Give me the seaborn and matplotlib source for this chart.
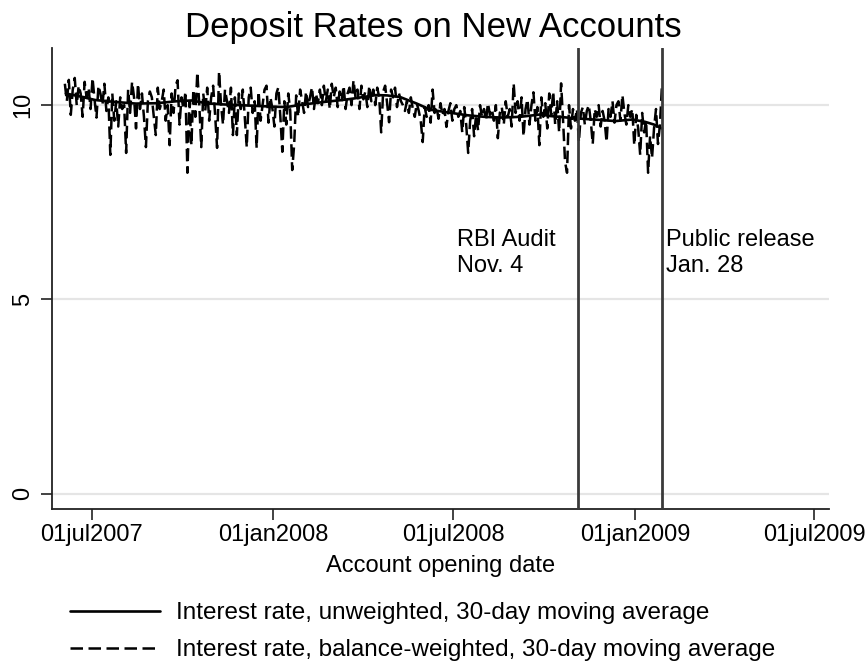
import numpy as np
import pandas as pd
import matplotlib
matplotlib.use("Agg")
import matplotlib.pyplot as plt
import matplotlib.dates as mdates
import seaborn as sns

# ---------------- data ----------------
weighted_start = "2007-06-04"     # first day of balance-weighted series
weighted_step_days = 2            # one reading every two days
weighted_rate = [
    10.55, 10.1, 10.65, 9.75, 10.4, 10.7, 10.0, 10.5, 10.3, 9.7, 10.6, 10.2, 10.45, 9.9, 10.7, 10.15, 9.68, 10.5, 10.3, 10.0, 10.55, 9.85, 10.2,
    8.72, 10.3, 9.6, 10.1, 9.45, 10.2, 9.9, 10.0, 8.77, 10.4, 9.8, 10.6, 10.2, 9.4, 10.55, 9.9, 10.3, 9.7, 8.92, 10.1, 10.35,
    10.2, 9.7, 9.23, 10.45, 9.9, 10.1, 10.4, 9.6, 10.0, 8.97, 10.3, 9.8, 10.5, 10.64, 9.5, 10.2, 9.9, 10.35, 8.26, 10.1, 8.97,
    10.4, 9.7, 10.85, 10.0, 8.92, 10.3, 9.85, 10.45, 9.6, 10.2, 10.5, 9.75, 8.9, 10.87, 10.0, 9.5, 10.4, 10.1, 9.8, 10.45, 9.23, 10.2,
    9.23, 10.3, 9.9, 10.4, 9.7, 8.92, 10.2, 10.45, 9.8, 10.1, 8.9, 10.35, 9.6, 10.0, 10.4, 10.5, 9.55, 10.2, 9.9, 9.45, 10.3,
    10.46, 9.7, 8.8, 10.1, 9.5, 10.3, 9.85, 8.33, 9.0, 10.25, 9.7, 10.4, 10.1, 9.8, 10.35, 9.95, 10.2, 10.46, 9.9, 10.3, 10.05, 10.4,
    10.0, 10.5, 10.1, 10.4, 9.9, 10.55, 10.2, 10.45, 9.95, 10.35, 10.1, 10.5, 9.9, 10.3, 10.45, 10.0, 10.64, 10.2, 10.4, 9.9, 10.5,
    10.15, 10.35, 9.95, 10.5, 10.1, 10.4, 10.0, 10.45, 10.2, 9.3, 10.35, 10.5, 10.05, 9.56, 10.4, 10.2, 10.45, 9.95, 10.3, 10.1, 10.0, 9.85,
    10.1, 9.8, 10.2, 9.9, 9.7, 10.05, 9.85, 9.6, 9.05, 9.95, 9.7, 10.0, 9.55, 10.4, 9.8, 9.95, 9.65, 10.05, 9.75, 9.9, 9.44,
    9.85, 10.05, 9.6, 9.9, 10.0, 9.7, 9.85, 9.3, 9.95, 9.5, 8.77, 9.6, 9.9, 9.2, 9.75, 9.35, 10.0, 9.7, 9.9, 9.6, 10.05, 9.75,
    9.9, 9.6, 10.0, 9.15, 9.8, 9.95, 9.5, 10.1, 9.7, 9.9, 9.45, 10.56, 9.8, 10.1, 9.6, 10.2, 9.2, 9.9, 10.15, 9.5, 10.0,
    10.33, 9.6, 9.95, 8.97, 10.2, 9.7, 10.05, 9.4, 10.3, 9.75, 10.35, 9.5, 10.1, 9.3, 10.56, 9.6, 8.54, 8.26, 10.0, 9.4, 9.9, 9.6,
    9.9, 9.05, 9.8, 9.95, 9.5, 9.85, 10.0, 9.6, 9.0, 9.9, 9.7, 10.0, 9.45, 9.85, 9.6, 9.05, 9.9, 9.7, 10.1, 9.55, 10.0,
    10.1, 9.6, 10.26, 9.8, 9.5, 10.0, 9.7, 9.9, 8.97, 9.75, 9.4, 8.72, 9.8, 9.3, 9.6, 8.26, 9.2, 8.64, 9.4, 9.9, 9.0, 9.5, 10.5,
]

ma_dates = [
    "2007-06-05", "2007-06-20", "2007-07-05", "2007-07-26", "2007-08-15", "2007-09-05",
    "2007-09-25", "2007-10-10", "2007-10-25", "2007-11-10", "2007-11-28", "2007-12-15",
    "2008-01-01", "2008-01-14", "2008-02-01", "2008-02-24", "2008-03-10", "2008-03-22",
    "2008-04-14", "2008-04-25", "2008-05-08", "2008-05-25", "2008-06-08", "2008-06-21",
    "2008-07-15", "2008-08-01", "2008-08-18", "2008-09-07", "2008-09-27", "2008-10-07",
    "2008-11-02", "2008-11-26", "2008-12-12", "2008-12-29", "2009-01-11", "2009-01-20",
    "2009-01-28",
]
ma_rate = [
    10.30, 10.22, 10.13, 10.08, 10.04, 10.05,
    10.10, 10.12, 10.05, 10.02, 10.00, 9.98,
    9.96, 9.95, 10.02, 10.09, 10.13, 10.17,
    10.26, 10.25, 10.21, 10.04, 9.88, 9.83,
    9.74, 9.70, 9.68, 9.70, 9.76, 9.72,
    9.66, 9.62, 9.59, 9.63, 9.57, 9.50,
    9.40,
]

series_labels = [
    "Interest rate, unweighted, 30-day moving average",
    "Interest rate, balance-weighted, 30-day moving average",
]
event_dates = ["2008-11-04", "2009-01-28"]
event_text_dates = ["2008-07-05", "2009-02-01"]
event_labels = [["RBI Audit", "Nov. 4"], ["Public release", "Jan. 28"]]
xtick_dates = ["2007-07-01", "2008-01-01", "2008-07-01", "2009-01-01", "2009-07-01"]
xtick_labels = ["01jul2007", "01jan2008", "01jul2008", "01jan2009", "01jul2009"]
ytick_values = [0, 5, 10]
title = "Deposit Rates on New Accounts"
xlabel = "Account opening date"

# ---------------- tables ----------------
df_w = pd.DataFrame({
    "date": pd.date_range(weighted_start, periods=len(weighted_rate),
                          freq=f"{weighted_step_days}D"),
    "rate": weighted_rate,
})
df_ma = pd.DataFrame({"date": pd.to_datetime(ma_dates), "rate": ma_rate})

# ---------------- style ----------------
sns.set_theme(style="white")
plt.rcParams["font.family"] = ["Liberation Sans", "DejaVu Sans"]
plt.rcParams["text.color"] = "black"
plt.rcParams["axes.labelcolor"] = "black"
plt.rcParams["xtick.color"] = "black"
plt.rcParams["ytick.color"] = "black"

fig = plt.figure(figsize=(8.67, 6.68), dpi=100)
W, H = 867, 668
ax = fig.add_axes([52 / W, 1 - 509 / H, (829 - 52) / W, (509 - 48) / H])

# grid lines
for v in ytick_values:
    ax.axhline(v, color="#e5e5e5", lw=1.6, zorder=0)

sns.lineplot(data=df_w, x="date", y="rate", ax=ax, color="black", lw=1.8,
             linestyle=(0, (5, 2.2)), legend=False, zorder=2)
line_w = ax.get_lines()[-1]
sns.lineplot(data=df_ma, x="date", y="rate", ax=ax, color="black", lw=1.9,
             legend=False, zorder=3)
line_ma = ax.get_lines()[-1]

for d in event_dates:
    ax.axvline(pd.Timestamp(d), color="#3a3a3a", lw=2.0, zorder=4)

# annotations
for d, (l1, l2) in zip(event_text_dates, event_labels):
    ax.text(pd.Timestamp(d), 6.38, l1, fontsize=17, ha="left", va="baseline",
            color="black")
    ax.text(pd.Timestamp(d), 5.71, l2, fontsize=17, ha="left", va="baseline",
            color="black")

# axes limits
ax.set_xlim(pd.Timestamp("2007-05-22"), pd.Timestamp("2009-07-16"))
ax.set_ylim(-0.39, 11.47)

ax.set_xticks([pd.Timestamp(d) for d in xtick_dates])
ax.set_xticklabels(xtick_labels, fontsize=17)
ax.set_yticks(ytick_values)
ax.set_yticklabels([str(v) for v in ytick_values], fontsize=17, rotation=90,
                   va="center")

ax.tick_params(axis="both", which="major", direction="out", length=8,
               width=1.2, color="#222222", bottom=True, left=True)
ax.tick_params(axis="x", pad=3)
ax.tick_params(axis="y", pad=5)

for s in ["top", "right"]:
    ax.spines[s].set_visible(False)
for s in ["left", "bottom"]:
    ax.spines[s].set_color("#222222")
    ax.spines[s].set_linewidth(1.3)

ax.set_xlabel(xlabel, fontsize=17, labelpad=6)
ax.set_ylabel("")
ax.grid(False)

fig.text(0.5, 1 - 27 / H, title, fontsize=25, ha="center", va="center")

# legend
fig.legend([line_ma, line_w], series_labels, loc="upper left",
           bbox_to_anchor=(70 / W, 1 - 602 / H), frameon=False, fontsize=17.5,
           handlelength=3.7, handletextpad=0.65, labelspacing=0.62,
           borderpad=0, borderaxespad=0)

fig.savefig("out.png", dpi=100)
